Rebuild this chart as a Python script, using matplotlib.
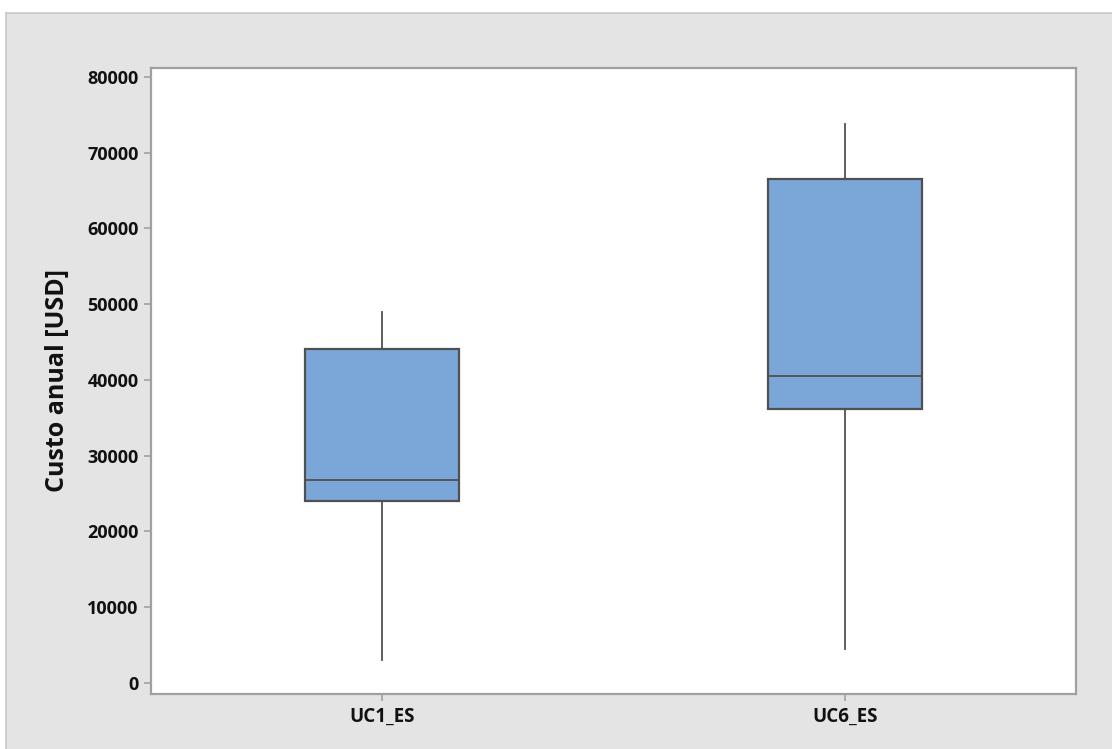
import matplotlib
matplotlib.use("Agg")
import matplotlib.pyplot as plt
from matplotlib.patches import Rectangle
from matplotlib.lines import Line2D

# Annual cost summary per use case
categories = ["UC1_ES", "UC6_ES"]
whisker_low = [3000, 4450]
q1 = [24050, 36150]
median = [26800, 40500]
q3 = [44100, 66550]
whisker_high = [48950, 73750]
y_ticks = [0, 10000, 20000, 30000, 40000, 50000, 60000, 70000, 80000]

plt.rcParams["font.family"] = ["Open Sans", "DejaVu Sans"]

W, H = 1112, 749
fig = plt.figure(figsize=(W / 100, H / 100), dpi=100)
fig.patch.set_facecolor("white")

# grey panel behind the plot, with a thin frame on top and left
x0, y0 = 6 / W, 1 - 13 / H
fig.patches.append(Rectangle((x0, 0), 1 - x0, y0, transform=fig.transFigure,
                             facecolor="#E4E4E4", edgecolor="none", zorder=-10))
fig.lines.append(Line2D([x0, 1], [y0, y0], transform=fig.transFigure,
                        color="#C8C8C8", lw=1.2))
fig.lines.append(Line2D([x0, x0], [0, y0], transform=fig.transFigure,
                        color="#C8C8C8", lw=1.2))

ax = fig.add_axes([151 / W, 1 - 694 / H, (1076 - 151) / W, (694 - 68) / H])
ax.set_facecolor("white")

stats = []
for i, name in enumerate(categories):
    stats.append(dict(label=name, whislo=whisker_low[i], q1=q1[i], med=median[i],
                      q3=q3[i], whishi=whisker_high[i], fliers=[]))

edge = "#505050"
ax.bxp(stats, positions=[1, 2], widths=0.333, patch_artist=True, showcaps=False,
       boxprops=dict(facecolor="#7BA6D8", edgecolor=edge, linewidth=1.6),
       medianprops=dict(color=edge, linewidth=1.3),
       whiskerprops=dict(color=edge, linewidth=1.3))

ax.set_xlim(0.5, 2.5)
ax.set_ylim(-1500, 81200)
ax.set_yticks(y_ticks)
ax.set_yticklabels([str(v) for v in y_ticks])
ax.set_xticks([1, 2])
ax.set_xticklabels(categories)

for s in ax.spines.values():
    s.set_color("#A0A0A0")
    s.set_linewidth(1.6)

ax.tick_params(axis="both", colors="#A0A0A0", length=5, width=1.2,
               labelcolor="#111111", labelsize=13, pad=4)
for lbl in ax.get_xticklabels() + ax.get_yticklabels():
    lbl.set_fontweight("bold")
for lbl in ax.get_xticklabels():
    lbl.set_fontsize(13.5)

ax.set_ylabel("Custo anual [USD]", fontsize=18, fontweight="bold",
              color="#111111", labelpad=12)

fig.savefig("out.png", dpi=100)
